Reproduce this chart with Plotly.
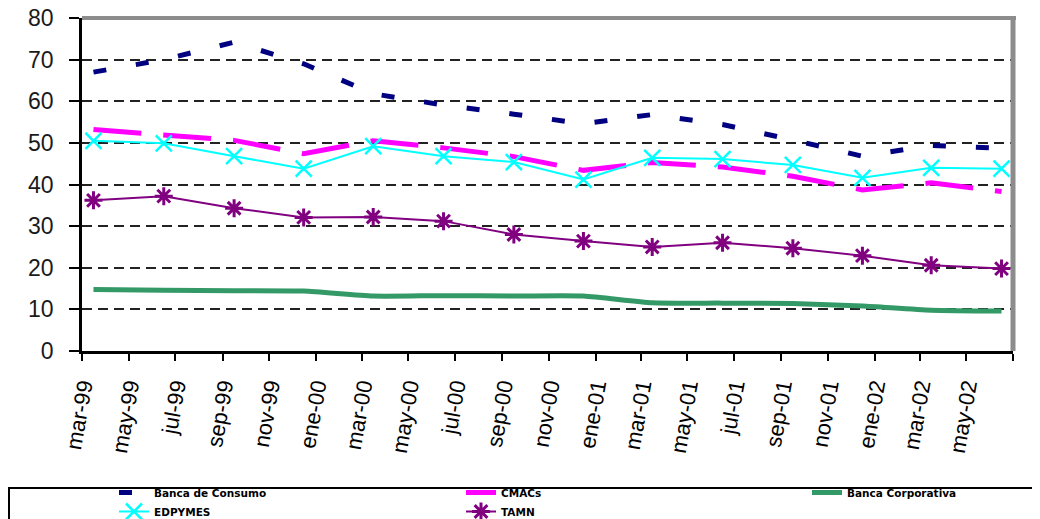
import pandas as pd
import plotly.graph_objects as go

# quarterly observations (mid-month, as Excel places them on a monthly date axis)
quarters = ["1999-03-16", "1999-06-16", "1999-09-16", "1999-12-16",
            "2000-03-16", "2000-06-16", "2000-09-16", "2000-12-16",
            "2001-03-16", "2001-06-16", "2001-09-16", "2001-12-16",
            "2002-03-16", "2002-06-16"]

banca_consumo = [67.0, 70.0, 74.2, 69.0, 61.8, 59.1, 56.9, 54.6, 56.8, 54.4, 50.7, 46.8, 49.4, 48.7]
cmacs = [53.2, 52.0, 50.6, 47.4, 50.5, 48.8, 46.7, 43.4, 45.3, 44.2, 42.0, 38.7, 40.4, 38.3]
banca_corporativa = [14.8, 14.6, 14.5, 14.4, 13.2, 13.3, 13.2, 13.2, 11.6, 11.5, 11.4, 10.8, 9.8, 9.6]
edpymes = [50.5, 49.9, 46.8, 43.8, 49.2, 46.8, 45.4, 41.2, 46.4, 46.1, 44.7, 41.6, 44.0, 43.8]
tamn = [36.2, 37.2, 34.3, 32.1, 32.2, 31.2, 28.0, 26.4, 25.0, 26.0, 24.7, 22.9, 20.6, 19.8]

tick_labels = ["mar-99", "may-99", "jul-99", "sep-99", "nov-99", "ene-00", "mar-00",
               "may-00", "jul-00", "sep-00", "nov-00", "ene-01", "mar-01", "may-01",
               "jul-01", "sep-01", "nov-01", "ene-02", "mar-02", "may-02", ""]
tick_dates = pd.date_range("1999-03-01", "2002-07-01", freq="2MS")

# the page body has an 8px margin, so the figure is drawn 8px smaller
OFF = 8
W, H = 1040 - OFF, 519 - OFF
# plot area in window pixels
PL, PR, PT, PB = 82, 1013, 18, 351
pw, ph = PR - PL, PB - PT


def px_x(v):
    return (v - PL) / pw


def px_y(v):
    return (PB - v) / ph


fig = go.Figure()
fig.add_trace(go.Scatter(
    x=quarters, y=banca_consumo, name="Banca de Consumo", mode="lines",
    line=dict(color="#000080", width=5, dash="13px,30px"), legend="legend"))
fig.add_trace(go.Scatter(
    x=quarters, y=cmacs, name="CMACs", mode="lines",
    line=dict(color="#ff00ff", width=5, dash="48px,22px"), legend="legend2"))
fig.add_trace(go.Scatter(
    x=quarters, y=banca_corporativa, name="Banca Corporativa", mode="lines",
    line=dict(color="#339966", width=5, shape="spline", smoothing=0.6), legend="legend3"))
fig.add_trace(go.Scatter(
    x=quarters, y=edpymes, name="EDPYMES", mode="lines+markers",
    line=dict(color="#00ffff", width=2),
    marker=dict(symbol="x-thin", size=16, line=dict(color="#00ffff", width=2.5)),
    legend="legend"))
fig.add_trace(go.Scatter(
    x=quarters, y=tamn, name="TAMN", mode="lines+markers",
    line=dict(color="#800080", width=2),
    marker=dict(symbol="asterisk", size=15, line=dict(color="#800080", width=3)),
    legend="legend2"))

legend_font = dict(family="DejaVu Sans", size=10.5, color="black", weight="bold")
legend_common = dict(orientation="v", yanchor="top", xanchor="left", y=px_y(478),
                     bgcolor="rgba(0,0,0,0)", borderwidth=0, tracegroupgap=0,
                     font=legend_font)

fig.update_layout(
    width=W, height=H,
    margin=dict(l=PL - OFF, r=W - (PR - OFF), t=PT - OFF, b=H - (PB - OFF), autoexpand=False),
    paper_bgcolor="white", plot_bgcolor="white",
    font=dict(family="Arial, Liberation Sans", color="black"),
    showlegend=True,
    legend=dict(x=px_x(114), **legend_common),
    legend2=dict(x=px_x(461), **legend_common),
    legend3=dict(x=px_x(807), **legend_common),
    xaxis=dict(
        type="date", range=["1999-03-01", "2002-07-01"], automargin=False,
        tickvals=tick_dates, ticktext=tick_labels, tickangle=-80,
        ticks="outside", ticklen=7, tickwidth=2, tickcolor="black",
        ticklabelstandoff=4, ticklabeloverflow="allow",
        showline=True, linecolor="black", linewidth=2.5,
        showgrid=False, zeroline=False,
        tickfont=dict(family="Arial, Liberation Sans", size=22, color="black"),
    ),
    yaxis=dict(
        range=[0, 80], dtick=10, tick0=0, automargin=False,
        ticks="outside", ticklen=10, tickwidth=2, tickcolor="black",
        ticklabelstandoff=11, ticklabeloverflow="allow",
        showline=True, linecolor="black", linewidth=2.5,
        showgrid=True, gridcolor="#222222", griddash="10px,6px", gridwidth=1.5,
        zeroline=False,
        tickfont=dict(family="Arial, Liberation Sans", size=23, color="#1a1a1a"),
    ),
    shapes=[
        # grey frame on top and right of the plot area
        dict(type="line", xref="paper", yref="paper", x0=0, x1=px_x(1016), y0=1, y1=1,
             line=dict(color="#8c8c8c", width=4), layer="above"),
        dict(type="line", xref="paper", yref="paper", x0=1, x1=1, y0=0, y1=px_y(17),
             line=dict(color="#8c8c8c", width=5), layer="above"),
        # legend box
        dict(type="rect", xref="paper", yref="paper",
             x0=px_x(9), x1=px_x(1060), y0=px_y(530), y1=px_y(488),
             line=dict(color="black", width=2)),
    ],
)

fig.write_html("out.html")
